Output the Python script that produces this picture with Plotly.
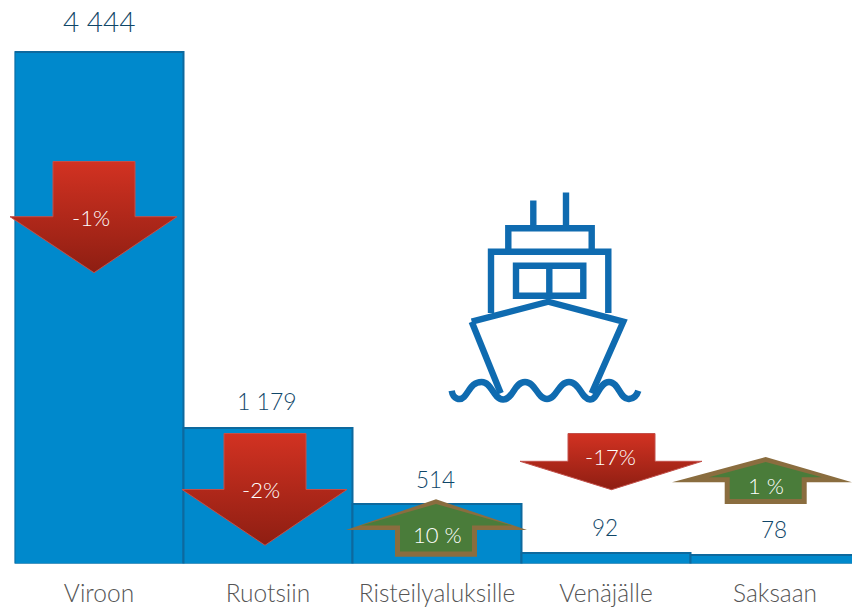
import plotly.graph_objects as go

# ---- data ----
categories = ["Viroon", "Ruotsiin", "Risteilyaluksille", "Venäjälle", "Saksaan"]
values = [4444, 1179, 514, 92, 78]
value_labels = ["4 444", "1 179", "514", "92", "78"]
changes = ["-1%", "-2%", "10 %", "-17%", "1 %"]

# ---- style / layout ----
W, H = 852, 608
FONT = "Lato"
BAR = "#0089CC"
BAR_EDGE = "#0D699E"
LABEL = "#0F4668"
AXIS_TEXT = "#555555"
SHIP = "#0F6BB0"
RED_TOP, RED_BOTTOM = "#D23222", "#8E1E12"
RED_EDGE = "#C2504A"
BROWN, GREEN = "#8A6D3F", "#4A7C3A"
CHANGE_TEXT = "#FFFFFF"

PLOT_LEFT, BASELINE = 14.5, 563.5
BAR_PX = 169.0
PX_PER_UNIT = 0.115

value_sizes = [28, 23, 22.5, 22.5, 22.5]
value_shifts = [31, 26.5, 25, 25, 25]
value_dx = [0, -1, -2, -1, -1]

# arrow geometry in pixels: cx, shaft half width, head left, head right, y-top, y-shoulder, y-tip
down_arrows = [
    (0, 94, 41, 10, 177, 161.5, 216.7, 272.7),
    (1, 265, 41, 182, 347, 433.5, 489.5, 545.3),
    (3, 611.5, 43.5, 520, 702, 433.5, 461.3, 489.7),
]
up_arrows = [
    (2, 436, 41, 346, 527, 499.3, 530, 556.7, 504, 525.5, 551.5, 361, 512, 36),
    (4, 765.7, 41, 672, 852, 457, 482.3, 504, 462, 477.3, 499, 709, 822, 36),
]
change_pos = [(91, 217), (261, 489), (437, 534), (610, 456), (766, 485)]

fig = go.Figure()
fig.add_trace(go.Bar(
    x=categories, y=values, width=1,
    marker=dict(color=BAR, line=dict(color=BAR_EDGE, width=2)),
    hoverinfo="skip", showlegend=False,
))


def poly(xs, ys, **kw):
    fig.add_trace(go.Scatter(
        x=xs + xs[:1], y=ys + ys[:1], xaxis="x2", yaxis="y2", mode="lines",
        fill="toself", hoverinfo="skip", showlegend=False, **kw))


for _, cx, hw, hl, hr, yt, ys, yp in down_arrows:
    poly([cx - hw, cx + hw, cx + hw, hr, cx, hl, cx - hw],
         [yt, yt, ys, ys, yp, ys, ys],
         line=dict(color=RED_EDGE, width=1),
         fillgradient=dict(type="vertical",
                           colorscale=[[0, RED_BOTTOM], [1, RED_TOP]]))

for _, cx, hw, hl, hr, yt, ys, yb, iyt, iys, iyb, ihl, ihr, ihw in up_arrows:
    poly([cx, hr, cx + hw, cx + hw, cx - hw, cx - hw, hl],
         [yt, ys, ys, yb, yb, ys, ys],
         line=dict(color=BROWN, width=0), fillcolor=BROWN)
    poly([cx, ihr, cx + ihw, cx + ihw, cx - ihw, cx - ihw, ihl],
         [iyt, iys, iys, iyb, iyb, iys, iys],
         line=dict(color=GREEN, width=0), fillcolor=GREEN)

# ---- ship icon (decoration, pixel coordinates) ----
ship_paths = [
    "M533.3,200.5 L533.3,225",
    "M566,192.5 L566,225",
    "M508.3,250 L508.3,228.3 L591.7,228.3 L591.7,250",
    "M491,313 L491,251.7 L608.3,251.7 L608.3,313",
    "M516,265.7 L583.3,265.7 L583.3,295.7 L516,295.7 Z",
    "M549.3,265.7 L549.3,295.7",
    "M471.7,321.7 L548.3,301.7 L623.3,321.7 L591.7,393.3",
    "M471.7,321.7 L500.7,393.3",
    ("M451.7,390.7 C453,399 460,401 464,397 C470,390 472,382 481.7,382 "
     "C492,382 493,399 503,399.5 C513,400 514,382 525,382 "
     "C536,382 537,399 547,399 C557,399 558,382 569,382 "
     "C580,382 581,399 590,399.5 C598,399.5 599,382 609,382 "
     "C619,382 620,400 629,399 C634,398.5 637,395 638.3,390.7"),
]
shapes = [dict(type="path", path=p, xref="x2", yref="y2", layer="above",
               line=dict(color=SHIP, width=6.4)) for p in ship_paths]

# ---- texts ----
annotations = []
for c, v, t, s, sh, dx in zip(categories, values, value_labels, value_sizes, value_shifts, value_dx):
    annotations.append(dict(x=c, y=v, xref="x", yref="y", text=t, showarrow=False,
                            yshift=sh, xshift=dx, yanchor="middle",
                            font=dict(family=FONT, size=s, color=LABEL, weight=300)))
for t, (x, y) in zip(changes, change_pos):
    annotations.append(dict(x=x, y=y, xref="x2", yref="y2", text=t, showarrow=False,
                            font=dict(family=FONT, size=22, color=CHANGE_TEXT, weight=300)))

fig.update_layout(
    width=W, height=H, autosize=False,
    margin=dict(l=0, r=0, t=0, b=0, pad=0),
    paper_bgcolor="white", plot_bgcolor="rgba(0,0,0,0)",
    bargap=0, shapes=shapes, annotations=annotations,
    xaxis=dict(domain=[PLOT_LEFT / W, 1], automargin=False,
               type="category", categoryorder="array", categoryarray=categories,
               range=[-0.5, -0.5 + (W - PLOT_LEFT) / BAR_PX],
               showgrid=False, zeroline=False, showline=False,
               ticks="outside", ticklen=8, tickcolor="rgba(0,0,0,0)",
               tickfont=dict(family=FONT, size=24.5, color=AXIS_TEXT, weight=300)),
    yaxis=dict(domain=[(H - BASELINE) / H, 1], automargin=False,
               range=[0, BASELINE / PX_PER_UNIT], visible=False),
    xaxis2=dict(domain=[0, 1], range=[0, W], visible=False, anchor="y2",
                fixedrange=True, automargin=False),
    yaxis2=dict(domain=[0, 1], range=[H, 0], visible=False, anchor="x2",
                fixedrange=True, automargin=False),
)

fig.write_html("out.html", config={"displayModeBar": False},
               post_script="document.body.style.margin='0';document.body.style.overflow='hidden';")
